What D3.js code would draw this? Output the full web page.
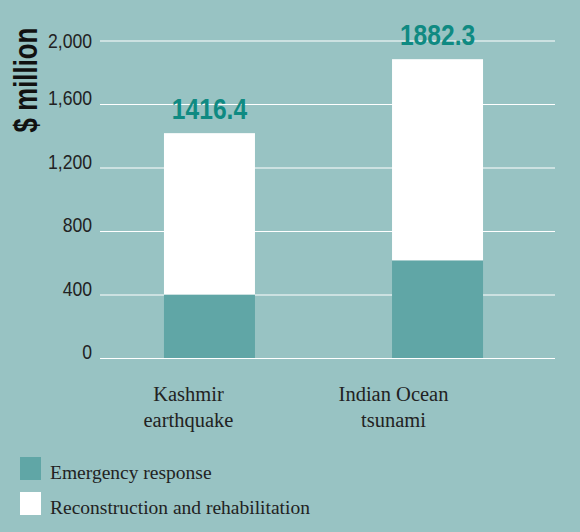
<!DOCTYPE html>
<html><head><meta charset="utf-8">
<script src="https://cdn.jsdelivr.net/npm/d3@7"></script>
<style>
html,body{margin:0;padding:0;background:#98c3c3;}
svg{display:block;}
</style></head>
<body>
<script>
const categories = [["Kashmir","earthquake"],["Indian Ocean","tsunami"]];
const emergency = [400, 615];
const totals = [1416.4, 1882.3];
const reconstruction = totals.map((t,i)=>+(t-emergency[i]).toFixed(1));
const yTicks = [0,400,800,1200,1600,2000];
const seriesNames = ["Emergency response","Reconstruction and rehabilitation"];
const colors = ["#60a6a6","#ffffff"];

const W=580,H=532;
const SANS="'Liberation Sans',Arial,sans-serif";
const SERIF="'Liberation Serif','Times New Roman',serif";
const svg=d3.select("body").append("svg").attr("width",W).attr("height",H);
svg.append("rect").attr("width",W).attr("height",H).attr("fill","#98c3c3");

const y=d3.scaleLinear().domain([0,2000]).range([358,40.5]);
const x=d3.scaleBand().domain([0,1]).range([96,551]).paddingInner(0.601).paddingOuter(0.298);

// gridlines
const ax=svg.append("g").attr("transform","translate(100,0)")
  .call(d3.axisLeft(y).tickValues(yTicks).tickFormat("").tickSize(-455));
ax.select(".domain").remove();
ax.selectAll(".tick line").attr("stroke","#ffffff").attr("stroke-width",1.2);

// tick labels (condensed)
svg.append("g").selectAll("text").data(yTicks).join("text")
  .attr("transform",d=>`translate(92,${y(d)+(d===2000?7.5:1)}) scale(0.88,1)`)
  .attr("text-anchor","end").attr("font-family",SANS).attr("font-size",20).attr("fill","#222")
  .text(d3.format(","));

const stack=d3.stack().keys([0,1])(categories.map((c,i)=>({0:emergency[i],1:reconstruction[i]})));
stack.forEach((s,si)=>{
  svg.append("g").selectAll("rect").data(s).join("rect")
    .attr("x",(d,i)=>x(i)).attr("width",x.bandwidth())
    .attr("y",d=>y(d[1])).attr("height",d=>y(d[0])-y(d[1]))
    .attr("fill",colors[si]);
});

// value labels
svg.append("g").selectAll("text").data(totals).join("text")
  .attr("transform",(d,i)=>`translate(${x(i)+x.bandwidth()/2},${y(d)-14}) scale(0.82,1)`)
  .attr("text-anchor","middle").attr("fill","#0f8a82")
  .attr("font-family",SANS).attr("font-weight","bold").attr("font-size",30)
  .text(d=>d.toFixed(1));

// category labels
const offs=[-21,-44];
categories.forEach((c,i)=>{
  const t=svg.append("text").attr("text-anchor","middle")
    .attr("font-family",SERIF).attr("font-size",20.5).attr("fill","#222");
  c.forEach((line,j)=>t.append("tspan").attr("x",x(i)+x.bandwidth()/2+offs[i]).attr("y",401+j*26).text(line));
});

// y title
svg.append("text").attr("transform","translate(37,80) rotate(-90) scale(0.76,1)")
  .attr("text-anchor","middle").attr("font-family",SANS)
  .attr("font-weight","bold").attr("font-size",34).attr("fill","#111").text("$ million");

// legend
const lg=svg.append("g");
seriesNames.forEach((n,i)=>{
  lg.append("rect").attr("x",20).attr("y",457+i*35).attr("width",21).attr("height",23).attr("fill",colors[i]);
  lg.append("text").attr("x",50).attr("y",479+i*35).attr("font-family",SERIF)
    .attr("font-size",19.5).attr("fill","#222").text(n);
});
</script>
</body></html>
